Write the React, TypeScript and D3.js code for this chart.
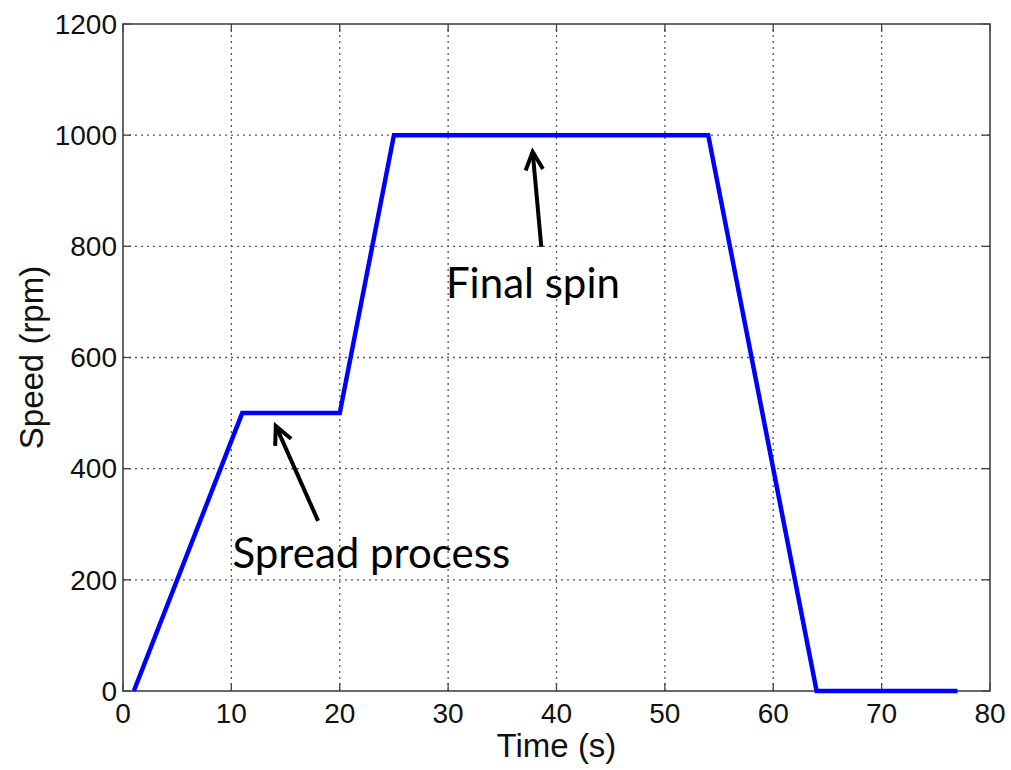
import * as d3 from "d3";

const timeS = [1, 11, 20, 25, 54, 64, 77];
const speedRpm = [0, 500, 500, 1000, 1000, 0, 0];
const xTicks = [0, 10, 20, 30, 40, 50, 60, 70, 80];
const yTicks = [0, 200, 400, 600, 800, 1000, 1200];

const notes = ["Spread process", "Final spin"];
const noteTextX = [10.1, 29.8];
const noteTextY = [221, 707];
const arrowTailX = [18.0, 38.6];
const arrowTailY = [306, 799];
const arrowTipX = [14.1, 37.8];
const arrowTipY = [477, 970];

const W = 1011;
const H = 770;
const margin = { top: 24, right: 21, bottom: 79, left: 123 };

export default function App() {
  const x = d3.scaleLinear().domain([0, 80]).range([margin.left, W - margin.right]);
  const y = d3.scaleLinear().domain([0, 1200]).range([H - margin.bottom, margin.top]);
  const [x0, x1] = x.range();
  const [y0, y1] = y.range();

  const line = d3.line<number>()
    .x((_, i) => x(timeS[i]))
    .y(d => y(d));

  const grid = "#555";
  const frame = "#444";
  const tickLen = 8;

  const arrowHead = (i: number) => {
    const tx = x(arrowTipX[i]), ty = y(arrowTipY[i]);
    const sx = x(arrowTailX[i]), sy = y(arrowTailY[i]);
    const ang = Math.atan2(sy - ty, sx - tx);
    const len = 20, spread = 0.45;
    const p1 = [tx + len * Math.cos(ang + spread), ty + len * Math.sin(ang + spread)];
    const p2 = [tx + len * Math.cos(ang - spread), ty + len * Math.sin(ang - spread)];
    return `M${p1[0]},${p1[1]}L${tx},${ty}L${p2[0]},${p2[1]}`;
  };

  return (
    <svg width={W} height={H} style={{ position: "absolute", left: 0, top: 0, background: "#fff" }}
      fontFamily="'Liberation Sans', Arial, sans-serif">
      {/* grid */}
      {xTicks.slice(1, -1).map(t => (
        <line key={"gx" + t} x1={x(t)} x2={x(t)} y1={y0} y2={y1} stroke={grid} strokeWidth={1.3} strokeDasharray="2,4" />
      ))}
      {yTicks.slice(1, -1).map(t => (
        <line key={"gy" + t} x1={x0} x2={x1} y1={y(t)} y2={y(t)} stroke={grid} strokeWidth={1.3} strokeDasharray="2,4" />
      ))}
      {/* inward ticks */}
      {xTicks.map(t => (
        <g key={"tx" + t} stroke={frame} strokeWidth={1.3}>
          <line x1={x(t)} x2={x(t)} y1={y0} y2={y0 - tickLen} />
          <line x1={x(t)} x2={x(t)} y1={y1} y2={y1 + tickLen} />
        </g>
      ))}
      {yTicks.map(t => (
        <g key={"ty" + t} stroke={frame} strokeWidth={1.3}>
          <line x1={x0} x2={x0 + tickLen} y1={y(t)} y2={y(t)} />
          <line x1={x1} x2={x1 - tickLen} y1={y(t)} y2={y(t)} />
        </g>
      ))}
      <rect x={x0} y={y1} width={x1 - x0} height={y0 - y1} fill="none" stroke={frame} strokeWidth={1.6} />

      {/* tick labels */}
      {xTicks.map(t => (
        <text key={"lx" + t} x={x(t)} y={y0 + 32} textAnchor="middle" fontSize={28} fill="#111">{t}</text>
      ))}
      {yTicks.map(t => (
        <text key={"ly" + t} x={x0 - 6} y={y(t)} dy="0.35em" textAnchor="end" fontSize={28} fill="#111">{t}</text>
      ))}

      {/* axis titles */}
      <text x={(x0 + x1) / 2} y={757} textAnchor="middle" fontSize={33} fill="#111">Time (s)</text>
      <text transform={`translate(43,${(y0 + y1) / 2}) rotate(-90)`} textAnchor="middle" fontSize={33} fill="#111">Speed (rpm)</text>

      {/* data */}
      <path d={line(speedRpm) ?? ""} fill="none" stroke="#0000ff" strokeWidth={4.5} strokeLinejoin="miter" />

      {/* annotations */}
      {notes.map((n, i) => (
        <g key={n}>
          <line x1={x(arrowTailX[i])} y1={y(arrowTailY[i])} x2={x(arrowTipX[i])} y2={y(arrowTipY[i])}
            stroke="#000" strokeWidth={4} />
          <path d={arrowHead(i)} fill="none" stroke="#000" strokeWidth={4} strokeLinejoin="miter" />
          <text x={x(noteTextX[i])} y={y(noteTextY[i])} fontFamily="Lato, 'Open Sans', sans-serif" fontSize={42} fill="#000">{n}</text>
        </g>
      ))}
    </svg>
  );
}
